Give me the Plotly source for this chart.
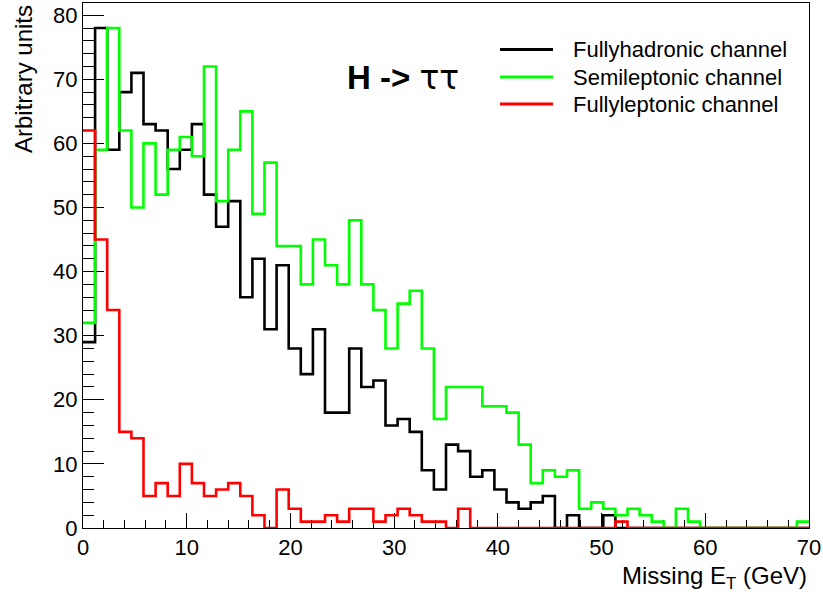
import plotly.graph_objects as go

# ---- data: 60 bins over 0..70 GeV ----
n_bins = 60
x_min, x_max = 0.0, 70.0
fully_hadronic = [29, 78, 59, 68, 71, 63, 62, 56, 59, 63, 52, 47, 51, 36, 42, 31, 41, 28, 24, 31,
                  18, 18, 28, 22, 23, 16, 17, 15, 9, 6, 13, 12, 8, 9, 6, 4, 3, 4, 5, 0,
                  2, 0, 0, 2, 0, 0, 0, 0, 0, 0, 0, 0, 0, 0, 0, 0, 0, 0, 0, 0]
semileptonic = [32, 59, 78, 62, 50, 60, 52, 59, 61, 58, 72, 51, 59, 65, 49, 57, 44, 44, 38, 45,
                41, 38, 48, 38, 34, 28, 35, 37, 28, 17, 22, 22, 22, 19, 19, 18, 13, 7, 9, 8,
                9, 3, 4, 3, 2, 3, 2, 1, 0, 3, 1, 0, 0, 0, 0, 0, 0, 0, 0, 1]
fully_leptonic = [62, 45, 34, 15, 14, 5, 7, 5, 10, 7, 5, 6, 7, 5, 2, 0, 6, 3, 1, 1,
                  2, 1, 3, 3, 1, 2, 3, 2, 1, 1, 0, 3, 0, 0, 0, 0, 0, 0, 0, 0,
                  0, 0, 0, 0, 1, 0, 0, 0, 0, 0, 0, 0, 0, 0, 0, 0, 0, 0, 0, 0]
series_names = ["Fullyhadronic channel", "Semileptonic channel", "Fullyleptonic channel"]
series_colors = ["#000000", "#00ff00", "#ff0000"]
series_values = [fully_hadronic, semileptonic, fully_leptonic]

edges = [x_min + i * (x_max - x_min) / n_bins for i in range(n_bins + 1)]
y_max = 1.05 * max(max(s) for s in series_values)

W, H = 823, 598
ML, MR, MT, MB = 83, 14, 3, 70
PW, PH = W - ML - MR, H - MT - MB
FONT = "Liberation Sans, Arial, Helvetica, sans-serif"


def px(x):
    return (x - ML) / PW


def py(y):
    return (H - MB - y) / PH


fig = go.Figure()
for name, col, vals in zip(series_names, series_colors, series_values):
    fig.add_trace(go.Scatter(
        x=edges, y=list(vals) + [vals[-1]], mode="lines", line_shape="hv",
        line=dict(color=col, width=2.6), name=name, showlegend=False,
        cliponaxis=False, hoverinfo="skip"))

annotations = []
shapes = []
# manual ROOT-style legend
leg_y = [49.5, 77, 104]
for name, col, yy in zip(series_names, series_colors, leg_y):
    shapes.append(dict(type="line", xref="paper", yref="paper",
                       x0=px(500), x1=px(553), y0=py(yy), y1=py(yy),
                       line=dict(color=col, width=3)))
    annotations.append(dict(text=name, xref="paper", yref="paper", x=px(571), y=py(yy),
                            xanchor="left", yanchor="middle", showarrow=False,
                            font=dict(family=FONT, size=22, color="black")))

annotations.append(dict(text="<b>H -></b> <span style=\"font-family:'DejaVu Sans'\">ττ</span>",
                        xref="paper", yref="paper",
                        x=px(345), y=py(77), xanchor="left", yanchor="middle",
                        showarrow=False, font=dict(family=FONT, size=33, color="black")))
annotations.append(dict(text="Arbitrary units", xref="paper", yref="paper",
                        x=px(23), y=py(3), xanchor="center", yanchor="top", textangle=-90,
                        showarrow=False, font=dict(family=FONT, size=24, color="black")))
annotations.append(dict(text="Missing E<sub>T</sub> (GeV)", xref="paper", yref="paper",
                        x=px(809), y=py(560), xanchor="right", yanchor="top",
                        showarrow=False, font=dict(family=FONT, size=24, color="black")))

fig.update_layout(
    width=W, height=H, margin=dict(l=ML, r=MR, t=MT, b=MB),
    paper_bgcolor="white", plot_bgcolor="white",
    font=dict(family=FONT, size=22, color="black"),
    showlegend=False, shapes=shapes, annotations=annotations,
    xaxis=dict(range=[x_min, x_max], showgrid=False, zeroline=False,
               showline=True, mirror=True, linecolor="black", linewidth=1,
               ticks="inside", ticklen=15, tickwidth=1, tickcolor="black",
               dtick=10, tick0=0, layer="below traces",
               minor=dict(ticks="inside", ticklen=8, dtick=2, tickcolor="black", tickwidth=1),
               tickfont=dict(family=FONT, size=22, color="black")),
    yaxis=dict(range=[0, y_max], showgrid=False, zeroline=False,
               showline=True, mirror=True, linecolor="black", linewidth=1,
               ticks="inside", ticklen=21, tickwidth=1, tickcolor="black",
               dtick=10, tick0=0, layer="below traces",
               minor=dict(ticks="inside", ticklen=11, dtick=2, tickcolor="black", tickwidth=1),
               tickfont=dict(family=FONT, size=22, color="black")),
)

fig.write_html("out.html")
